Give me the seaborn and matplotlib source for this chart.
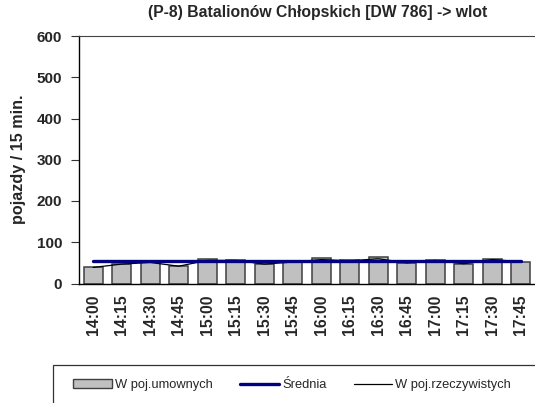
import numpy as np
import pandas as pd
import matplotlib
matplotlib.use("Agg")
import matplotlib.pyplot as plt
from matplotlib.patches import Rectangle, Patch
from matplotlib.lines import Line2D
import seaborn as sns

# Data
times = ["14:00", "14:15", "14:30", "14:45", "15:00", "15:15", "15:30", "15:45",
         "16:00", "16:15", "16:30", "16:45", "17:00", "17:15", "17:30", "17:45"]
umowne = [39, 47, 51, 42, 60, 58, 47, 52, 63, 58, 65, 50, 58, 48, 60, 53]
rzeczywiste = [39, 47, 51, 42, 56, 56, 47, 52, 58, 55, 60, 50, 56, 48, 58, 53]
srednia = [54] * len(times)

title = "(P-8) Batalionów Chłopskich [DW 786] -> wlot"
ylabel = "pojazdy / 15 min."
legend_labels = ["W poj.umownych", "Średnia", "W poj.rzeczywistych"]

sns.set_style("white")
plt.rcParams['font.family'] = ['Liberation Sans', 'DejaVu Sans']

df = pd.DataFrame({"czas": times, "umowne": umowne,
                   "rzecz": rzeczywiste, "sr": srednia})
df["pos"] = np.arange(len(df))

fig = plt.figure(figsize=(5.35, 4.03), dpi=100)
W, H = 535, 403
ax = fig.add_axes([79 / W, 1 - 283.5 / H, (535 - 79) / W, (283.5 - 36) / H])

sns.barplot(data=df, x="czas", y="umowne", ax=ax, color="#c0c0c0",
            saturation=1, width=0.67, edgecolor="#404040", linewidth=1.1)
sns.lineplot(data=df, x="pos", y="rzecz", ax=ax, color="black", lw=0.9)
sns.lineplot(data=df, x="pos", y="sr", ax=ax, color="#000080", lw=2.4,
             solid_capstyle="round")

ax.set_xlim(-0.5, len(times) - 0.5)
ax.set_ylim(0, 600)
ax.set_yticks(range(0, 601, 100))
ax.set_xticks(df["pos"])
ax.set_xticklabels(times, rotation=90, fontsize=11.3, fontweight="bold")
ax.set_xticks(np.arange(-0.5, len(times), 1), minor=True)
ax.tick_params(axis="x", which="major", length=0, pad=8)
ax.tick_params(axis="x", which="minor", length=9, direction="inout",
               width=0.8, color="black")
ax.tick_params(axis="y", which="major", length=6, direction="out",
               width=0.8, color="#333333", pad=6, left=True)
for lab in ax.get_yticklabels():
    lab.set_fontweight("bold")
    lab.set_fontsize(11)
ax.set_xlabel("")
ax.set_ylabel(ylabel, fontsize=11.6, fontweight="bold", labelpad=8)

for s in ["left", "bottom"]:
    ax.spines[s].set_color("black")
    ax.spines[s].set_linewidth(1.0)
ax.spines["top"].set_color("#444444")
ax.spines["top"].set_linewidth(0.8)
ax.spines["right"].set_visible(False)

fig.text(318 / W, 1 - 13 / H, title, ha="center", va="center",
         fontsize=11.3, fontweight="bold")

# legend box (runs off the bottom/right edge as in the reference)
fig.patches.append(Rectangle((53 / W, -0.05), 1.0, 1 - 365 / H + 0.05,
                             transform=fig.transFigure, fill=False,
                             edgecolor="#333333", lw=0.9))
handles = [Patch(facecolor="#c0c0c0", edgecolor="#404040", lw=1.0),
           Line2D([], [], color="#000080", lw=2.4),
           Line2D([], [], color="black", lw=0.9)]
fig.legend(handles, legend_labels, loc="center left",
           bbox_to_anchor=(68 / W, 1 - 385 / H), ncol=3, frameon=False,
           fontsize=9.3, handlelength=3.0, handletextpad=0.25,
           columnspacing=2.1, borderaxespad=0)

fig.savefig("out.png", dpi=100)
